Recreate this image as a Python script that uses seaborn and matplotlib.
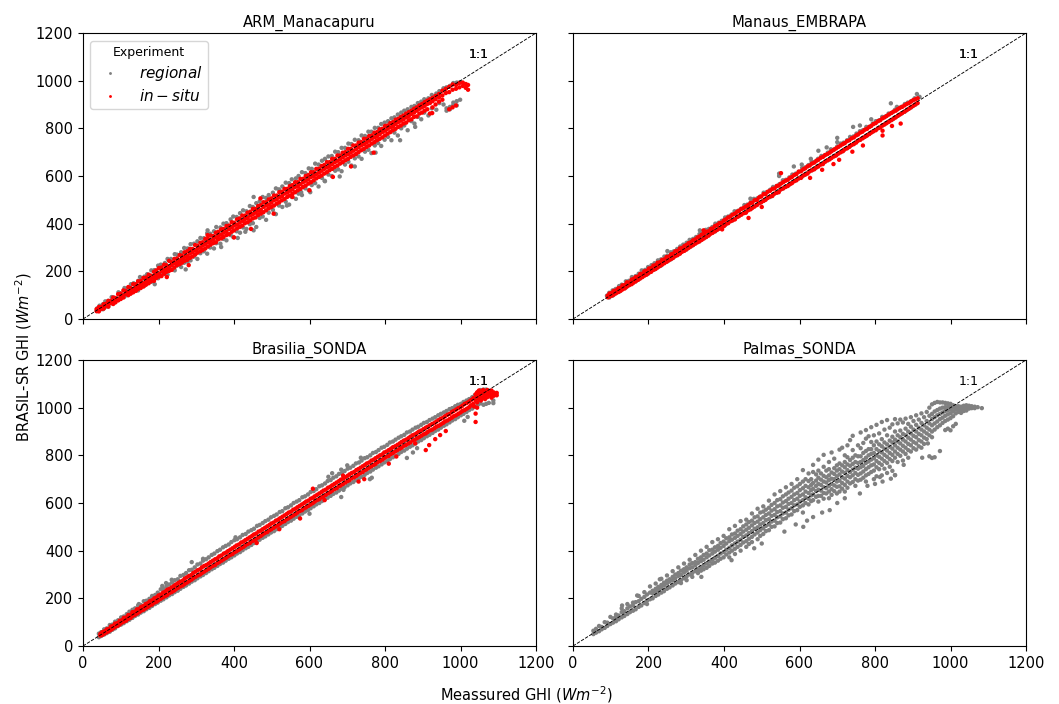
import pandas as pd
import matplotlib
matplotlib.use('Agg')
import matplotlib.pyplot as plt
import seaborn as sns

# each row: measured GHI, then the BRASIL-SR values seen at that measured GHI
arm_regional = [(37,44,33),(44,56,38),(53,62,41),(59,74,50),(67,76,52),(76,92,66),(82,90,68),(94,112,80),(99,108,85),(110,130,94),
(118,128,100),(127,146,109),(134,150,118),(146,160,120),(151,176,133),(163,178,140),(170,188,152),(181,204,156),(189,205,170),(199,224,171),
(206,228,184),(217,235,190),(224,252,186),(233,252,208),(243,272,204),(249,270,224),(260,280,218),(268,298,236),(277,296,240),(285,314,246),
(294,316,262),(303,326,252),(311,340,276),(320,339,284),(329,360,274),(337,358,300),(347,368,296),(353,386,318),(364,384,316),(372,400,336),
(380,402,330),(391,418,352),(398,430,344),(407,428,368),(416,444,362),(424,456,384),(433,452,378),(442,474,398),(450,470,402),(459,486,386),
(468,494,424),(476,512,430),(485,508,416),(492,520,446),(503,530,458),(511,548,440),(519,544,476),(528,556,470),(537,572,492),(546,570,480),
(553,586,512),(564,590,504),(571,600,526),(580,616,520),(589,612,548),(598,632,540),(606,630,562),(615,652,570),(624,648,556),(633,664,592),
(641,672,578),(650,682,606),(659,684,600),(668,702,622),(676,700,628),(685,718,620),(694,718,648),(703,736,660),(711,734,644),(720,752,674),
(730,750,682),(738,770,672),(747,768,702),(756,786,710),(764,786,696),(773,802,728),(782,802,738),(790,818,726),(799,824,752),(808,830,764),
(817,842,750),(825,846,782),(834,858,770),(843,866,800),(851,874,812),(860,880,792),(870,890,830),(878,894,820),(887,906,848),(896,912,838),
(904,922,866),(915,926,854),(924,940,884),(936,946,878),(944,956,906),(955,968,900),(963,972,884,874),(972,978,890,880),(981,990,898,908),(990,992,914,896),(999,994,920),
(330,372),(452,512,372),(578,532),(640,580),(720,640),(775,698),(840,750),(880,806),(410,340),(272,208),(190,146),(508,442),(602,532),(680,598),(366,302),(430,366),(540,476)]
arm_situ = [(36,41,33),(42,50,36,32),(49,51,42),(55,62,48,44),(61,64,56),(67,76,60,52),(73,76,67),(80,90,72,63),(86,88,80,70),(93,104,84,78),
(100,106,92,84),(107,120,98,90),(113,118,105),(120,134,112,100),(126,130,116,106),(133,146,124,112),(140,146,132,118),(146,158,138,126),(153,160,144,130),(160,172,150,136),
(167,174,160,144),(174,186,166,150),(180,182,170,158),(188,198,176,160),(194,204,186,172),(201,214,190,178),(208,216,200,180),(215,228,206,190),(221,226,212,198),(228,244,218,202),
(235,238,226,206),(242,252,234,216),(249,254,238,226),(256,268,246,230),(262,266,252,236),(269,280,260,244),(276,284,264,248),(283,294,274,256),(290,294,280,262),(297,310,288,270),
(303,308,294,278),(311,320,300,284),(317,322,308,290),(324,336,314,296),(331,336,322,304),(338,350,328,312),(345,348,334,318),(352,362,342,322),(358,366,348,334),(366,376,354,338),
(372,378,362,344),(380,390,368,352),(387,392,378,356),(394,406,384,366),(400,404,392,372),(408,418,396,380),(415,422,404,386),(422,434,412,392),(429,434,420,402),(436,446,424,406),
(443,450,434,414),(450,462,440,422),(457,462,446,426),(464,474,454,436),(471,478,458,442),(478,490,470,448),(485,490,476,456),(492,502,480,464),(499,506,488,470),(506,518,498,476),
(513,518,502,484),(520,532,510,490),(527,534,516,498),(534,546,526,504),(541,546,530,512),(548,558,538,518),(555,562,544,526),(562,574,554,532),(569,574,558,540),(576,588,566,546),
(583,588,574,554),(590,600,580,560),(597,604,586,568),(604,616,596,574),(611,616,600,582),(618,630,608,590),(625,630,614,596),(632,642,622,602),(639,646,630,610),(646,658,636,616),
(653,658,642,624),(660,672,650,630),(667,672,658,638),(674,686,664,644),(681,686,670,652),(688,698,678,658),(695,700,686,666),(702,714,692,672),(709,714,698,680),(716,728,706,686),
(723,728,712,692),(730,740,720,700),(737,742,728,708),(744,756,734,714),(751,756,740,722),(758,768,748,728),(765,770,756,736),(772,782,762,742),(779,784,768,750),(786,796,776,756),
(793,798,784,762),(800,810,790,770),(807,812,798,778),(814,822,804,784),(821,826,810,792),(828,836,818,798),(835,840,826,806),(842,848,832,812),(849,854,838,820),(856,862,846,824),
(863,868,852,834),(870,874,860,838),(877,882,866,848),(884,888,874,850),(891,896,882,862),(898,902,888,866),(905,910,894,874),(912,916,902,880),(919,922,906,862),(926,928,914,888),
(934,936,922,900),(943,944,930,912),(952,958,938,920),(961,966,948),(970,974,952,880),(979,984,962,888),(988,982,966,896),(997,990,972),(1006,992,978),(1014,986,970),(1020,982,962),
(330,352),(470,506),(555,512),(600,540),(770,698),(662,596),(925,864),(400,342),(445,378),(280,226),(505,442),(222,176),(710,640)]

manaus_regional = [(90,98),(96,110,90),(105,120,98),(113,126,108),(122,138,114),(129,144,124),(140,158,132),(148,160,142),(156,176,148),(166,180,158),
(174,190,166),(182,204,176),(191,206,184),(199,218,190),(208,226,202),(216,234,208),(225,246,218),(233,250,224),(242,262,236),(250,266,242),
(259,280,250),(267,284,260),(276,294,268),(284,304,276),(292,312,286),(301,320,292),(309,332,302),(318,336,310),(326,344,320),(335,356,326),
(343,360,336),(352,374,344),(360,378,352),(369,386,362),(377,400,368),(386,404,378),(394,412,388),(403,426,394),(411,430,404),(420,438,412),
(428,452,420),(437,454,430),(445,462,438),(454,478,446),(462,480,456),(471,490,462),(479,504,472),(488,506,480),(496,514,488),(505,530,496),
(513,532,506),(522,542,512),(530,554,522),(539,558,530),(547,566,540),(556,582,548),(564,584,556),(573,594,564),(581,606,574),(590,610,582),
(598,618,590),(607,634,598),(615,636,606),(624,646,616),(632,660,624),(641,660,632),(649,672,642),(658,684,650),(666,686,658),(675,698,666),
(683,712,676),(692,712,684),(700,724,692),(709,736,700),(717,740,708),(726,750,718),(734,764,726),(743,766,734),(751,778,744),(760,788,752),
(768,792,760),(777,806,768),(785,806,778),(794,820,786),(802,830,794),(811,834,802),(819,848,812),(828,850,820),(836,862,828),(845,866,836),
(853,878,846),(862,884,854),(870,890,862),(879,902,870),(887,908,880),(896,914,888),(905,926,898),(911,944,905),(918,932),
(546,610),(546,600),(585,640),(650,706),(672,720),(700,760),(742,806),(790,838),(842,905),(858,890),(470,505),(336,372),(250,285),(606,648),(630,672),(760,812),(700,742)]
manaus_situ = [(92,98,91),(97,107,94),(103,110,98),(108,118,102),(114,120,108),(120,129,113),(126,131,118),(131,141,124),(137,143,128),(143,154,136),
(149,153,142),(155,165,146),(160,168,152),(166,176,158),(172,178,164),(178,189,170),(184,190,176),(189,200,182),(195,202,186),(201,212,194),
(207,214,198),(213,224,206),(219,226,210),(224,236,216),(230,238,222),(236,248,228),(242,250,234),(248,260,240),(254,262,246),(260,271,252),
(265,274,256),(271,284,264),(277,286,268),(283,296,274),(289,298,282),(295,306,286),(300,310,292),(306,318,298),(312,322,304),(318,330,310),
(324,334,316),(330,342,322),(335,346,326),(341,354,332),(347,358,338),(353,366,344),(359,368,350),(365,378,358),(370,380,362),(376,390,368),
(382,394,374),(388,402,380),(394,404,386),(400,414,390),(405,418,398),(411,426,402),(417,430,410),(423,438,414),(429,442,418),(435,450,428),
(440,454,432),(446,462,438),(452,466,444),(458,472,446),(464,478,456),(470,486,460),(475,488,466),(481,498,472),(487,500,478),(493,510,486),
(499,514,490),(505,524,496),(510,524,500),(516,534,508),(522,538,514),(528,546,516),(534,548,526),(540,558,530),(545,560,532),(551,612,568,544),(557,574,548),(563,580,554),
(569,584,558),(575,592,566),(580,596,570),(586,604,578),(592,608,582),(598,618,590),(604,620,592),(610,628,602),(615,632,606),(621,640,610),
(627,644,620),(633,652,624),(639,656,628),(645,664,636),(650,668,640),(656,676,648),(662,680,650),(668,688,660),(674,692,666),(680,698,670),
(685,704,676),(691,710,682),(697,716,686),(703,722,694),(709,728,700),(715,734,704),(720,738,712),(726,746,716),(732,750,722),(738,758,730),
(744,762,734),(750,770,740),(755,774,748),(761,782,752),(767,786,758),(773,794,764),(779,798,770),(785,806,776),(790,810,782),(796,818,788),
(802,822,792),(808,830,800),(814,834,804),(820,842,812),(825,846,816),(831,852,822),(837,858,828),(843,864,834),(849,870,840),(855,874,846),
(860,880,852),(866,886,858),(872,890,864),(878,896,870),(884,902,876),(890,906,882),(895,912,888),(901,918,894),(907,922,900),(913,926,906),
(346,372),(465,472,424),(690,650),(820,770),(868,820),(768,728),(500,470),(395,376),(628,592),(705,668),(820,790),(845,810),(660,626),(740,702)]

brasilia_regional = [(42,52,37),(48,58,42),(56,70,48),(63,74,54),(71,88,60),(78,90,68),(85,102,74),(93,108,84),(101,120,90),(108,124,96),
(116,134,104),(123,144,110),(131,152,118),(138,158,126),(146,170,132),(153,172,140),(161,188,146),(168,190,154),(176,198,160),(183,210,168),
(191,214,176),(198,224,182),(206,238,190),(213,240,196),(221,250,204),(228,258,212),(236,266,218),(243,276,226),(251,280,232),(258,294,240),
(266,298,248),(273,306,254),(281,318,262),(288,352,320,270),(296,330,276),(303,342,284),(311,346,292),(318,358,298),(326,364,306),(333,372,314),
(341,382,322),(348,388,328),(356,398,336),(363,404,344),(371,414,350),(378,420,358),(386,426,366),(393,436,372),(401,444,380),(408,448,388),
(416,456,394),(423,466,402),(431,470,410),(438,480,416),(446,486,424),(453,492,432),(461,504,438),(468,508,446),(476,516,454),(483,524,460),
(491,530,468),(498,540,476),(506,546,482),(513,552,490),(521,562,498),(528,566,504),(536,578,512),(543,582,520),(551,590,526),(558,600,534),
(566,606,542),(573,612,548),(581,624,556),(588,628,564),(596,636,570),(603,646,578),(611,650,586),(618,658,594),(626,670,600),(633,674,608),
(641,682,616),(648,692,622),(656,696,630),(663,706,638),(671,712,644),(678,722,652),(686,726,660),(693,734,666),(701,744,674),(708,748,682),
(716,756,688),(723,766,696),(731,770,704),(738,778,710),(746,788,718),(753,792,726),(761,800,732),(768,810,740),(776,814,748),(783,822,754),
(791,832,762),(798,836,770),(806,844,776),(813,854,784),(821,858,792),(828,866,798),(836,874,806),(843,880,814),(851,886,820),(858,896,828),
(866,900,836),(873,908,842),(881,916,850),(888,920,858),(896,928,864),(903,936,872),(911,940,880),(918,948,886),(926,954,894),(933,960,902),
(941,968,908),(948,974,916),(956,980,924),(963,986,930),(971,994,938),(978,998,946),(986,1006,952),(993,1012,960),(1001,1016,968),(1008,1024,974),
(1016,1030,982),(1023,1036,990),(1031,1044,996),(1038,1052,1004),(1046,1066,1012),(1053,1074,1018),(1061,1076,1012),(1068,1076,1016),(1075,1070,1020),(1087,1030,1019),
(210,252),(220,264),(235,278),(660,725),(684,740,625),(760,700),(858,789),(874,812),(885,830),(1019,961),(1010,945),(600,555),(690,655),(765,706),(650,710),(700,758),(736,790),(404,456),(318,366),(148,176)]
brasilia_situ = [(46,51,44),(51,58,46),(57,62,52),(63,70,58),(68,72,62),(74,82,68),(80,85,74),(85,94,80),(91,96,84),(97,106,90),
(103,108,98),(108,118,102),(114,120,106),(120,130,114),(126,131,118),(131,142,126),(137,144,130),(143,154,136),(149,156,142),(154,164,148),
(160,168,152),(166,176,158),(172,180,164),(177,188,170),(183,192,174),(189,200,182),(195,204,186),(200,212,192),(206,216,198),(212,224,204),
(218,228,210),(223,236,214),(229,240,222),(235,246,226),(241,252,232),(246,258,238),(252,264,244),(258,270,250),(264,274,254),(269,282,260),
(275,288,266),(281,294,272),(287,298,278),(292,306,284),(298,312,290),(304,318,296),(310,322,300),(315,330,306),(321,336,312),(327,340,318),
(333,346,324),(338,352,330),(344,358,336),(350,364,340),(356,368,348),(361,376,352),(367,380,358),(373,388,364),(379,392,370),(384,398,376),
(390,404,382),(396,410,386),(402,416,394),(407,422,398),(413,426,404),(419,434,410),(425,438,416),(430,444,422),(436,450,428),(442,456,432),
(448,462,440),(453,468,444),(459,472,450),(465,480,456),(471,484,462),(476,490,468),(482,496,474),(488,502,478),(494,508,486),(499,514,490),
(505,518,496),(511,526,502),(517,530,508),(522,536,514),(528,542,520),(534,548,524),(540,554,532),(545,560,536),(551,564,542),(557,572,548),
(563,576,554),(568,582,560),(574,588,566),(580,594,570),(586,600,578),(591,606,582),(597,610,588),(603,618,594),(609,660,622,600),(614,628,606),(620,634,612),(626,640,616),
(632,646,624),(637,652,628),(643,656,634),(649,664,640),(655,668,646),(660,674,652),(666,680,658),(672,686,662),(678,692,670),(683,698,674),
(689,715,702,680),(695,708,686),(701,714,692),(706,720,696),(712,726,704),(718,730,708),(724,738,714),(729,742,720),(735,748,726),(741,754,730),
(747,760,738),(752,766,742),(758,770,748),(764,778,754),(770,782,760),(775,788,764),(781,794,772),(787,800,776),(793,804,782),(798,812,788),
(804,816,794),(810,822,798),(816,828,806),(821,834,810),(827,838,816),(833,844,822),(839,850,828),(844,856,832),(850,862,840),(856,866,844),
(862,872,850),(867,878,854),(873,884,862),(879,888,866),(885,894,872),(890,900,876),(896,904,882),(902,910,888),(908,916,892),(913,920,898),
(919,926,904),(925,932,908),(931,936,914),(936,942,920),(942,948,924),(948,954,930),(954,958,936),(959,964,942),(965,970,946),(971,974,952),
(977,982,958),(982,986,964),(988,992,968),(994,998,974),(1000,1002,980),(1005,1008,986),(1011,1016,990),(1017,1020,996),(1023,1026,1002),(1028,1032,1010),
(1034,1040,1016),(1040,1056,1030,975,940),(1044,1064,1046,1022,1000),(1049,1072,1056,1036),(1054,1066,1044,1030),(1060,1074,1058,1040),(1065,1068,1050,1036),(1071,1074,1060,1044),(1076,1066,1050),(1082,1072,1056,1042),(1088,1064,1050),(1096,1062,1052),
(908,822),(917,843),(933,868),(946,885),(961,902),(1036,1005),(745,700),(520,490),(575,535),(810,765),(830,795),(640,612),(730,690),(880,850),(460,432)]

palmas_regional = [(54,64,50),(61,72,56),(69,84,62),(76,80,70),(84,100,76),(91,98,84),(99,122,92),(106,116,98),(114,132,104,122),(121,128,112),
(129,158,142,120),(136,146,126),(144,176,158,134),(151,166,142),(159,182,170,148),(166,184,154),(174,210,188,164),(181,198,170),(189,226,206,180),(196,216,190,176),
(204,250,224,196),(211,232,222,200),(219,262,240,210,228),(226,248,216,236),(234,282,256,244,224),(241,266,254,230),(249,296,274,262,240),(256,280,270,246),(264,314,290,276,254),(271,300,284,262),
(279,330,306,294,268),(286,316,298,276,264),(294,346,322,308,284),(301,330,316,292,276),(309,362,342,326,300),(316,348,330,306,290),(324,382,352,338,314),(331,366,348,322,306),(339,400,372,356,330,316),(346,382,362,338,322),
(354,416,388,372,346,328),(361,402,380,354,336),(369,436,404,388,362,346),(376,414,396,370,350),(384,448,420,404,378,358),(391,432,412,388,366),(399,462,438,420,394,372),(406,452,430,404,384),(414,490,456,440,412,392,372),(421,468,446,422,400),
(429,504,472,454,430,408,386),(436,484,462,438,416),(444,524,490,470,446,424,400),(451,502,480,458,434),(459,530,510,488,464,440,416),(466,520,496,474,450,428),(474,556,526,506,482,458,436),(481,540,516,492,468),(489,576,544,522,498,476,448),(496,560,532,510,486,462),
(504,586,564,540,516,494,470),(511,572,550,528,504,482),(519,610,580,556,532,510,486),(526,592,568,546,522,500),(534,636,600,574,550,526,502),(541,612,586,562,540,516),(549,650,616,590,566,544,518),(556,628,602,580,556,532),(564,666,636,608,584,560,536),(571,644,618,596,572,548),
(579,680,652,626,600,578,552),(586,664,636,612,590,566),(594,700,670,642,618,594,570),(601,680,654,630,606,584),(609,738,690,662,636,612,590,560),(616,700,672,648,624,600),(624,724,692,666,642,618,594),(631,700,676,654,632,608),(636,760,730,684,660,636,612,541),(644,720,694,672,650,626),
(650,782,736,706,680,656,630,606),(657,724,698,676,652,630),(664,802,752,714,690,666,642,618),(671,736,708,686,662,640),(678,772,742,716,696,672,648,620),(685,812,728,702,680,658,634),(692,786,746,722,700,674,650),(699,758,736,712,690,668,640),(706,824,766,742,720,694,670,648),(713,832,758,732,708,684,660),
(720,800,772,750,726,702,676,648),(727,842,792,762,738,714,690,664),(734,864,780,756,730,708,682),(741,882,822,790,764,740,716,688),(748,800,772,748,726,700,672),(755,842,796,768,744,718,694),(762,896,830,796,772,750,724,698),(769,852,810,780,756,732,706),(776,906,870,818,790,768,742,716,690),(783,880,826,800,774,750,722),
(790,918,856,826,806,782,758,730),(797,884,842,810,788,762,736,700),(804,928,858,826,800,776,750,712),(811,892,846,818,794,768,742),(818,940,868,838,812,786,760,716),(825,908,854,828,802,776,744),(832,948,884,846,820,794,768,726),(839,916,862,836,810,784,752),(846,930,878,854,828,802,776,735),(853,952,900,866,842,816,790,717),
(860,934,884,858,832,806,772),(867,950,904,876,850,824,798),(874,938,890,866,840,816,778),(881,954,912,884,858,832,806),(888,932,900,874,848,822,790),(895,960,920,892,866,842,816),(902,944,908,882,856,830),(909,968,928,900,876,850,824),(916,950,916,890,864,838),(923,976,936,908,884,858,832),
(930,960,926,900,874,848),(937,982,944,916,892,868),(944,1000,966,934,908,884,796),(951,1014,974,952,926,900,876,789),(958,1020,984,960,934,908,792),(965,1024,990,968,942,918),(972,1022,996,974,952,926,818),(979,1022,1000,980,958,936),(986,1020,1002,986,966,944,906),(993,1018,1004,990,972,950,912),
(1000,1016,1004,992,976,956,905),(1007,1010,1000,984,964,922),(1014,1006,992,976,932),(1021,1006,996,982),(1028,1004,992,978),(1035,1008,998,986),(1042,1010,1000,988),(1049,1008,996),(1056,1006,998),(1064,1004,998),(1072,1002),(1083,998),
(842,702),(820,690),(800,680),(780,672),(760,640),(700,600),(680,570),(660,560),(620,526),(590,510),(720,620),(610,500),(560,480),(480,410),(500,430),(420,360),(340,290),(230,280),(170,212),(130,170),(853,717),(813,709),(876,760),(940,850),(925,790)]

titles = ['ARM_Manacapuru', 'Manaus_EMBRAPA', 'Brasilia_SONDA', 'Palmas_SONDA']
regional_rows = [arm_regional, manaus_regional, brasilia_regional, palmas_regional]
situ_rows = [arm_situ, manaus_situ, brasilia_situ, []]
ticks = [0, 200, 400, 600, 800, 1000, 1200]
regional_name = '$regional$'
situ_name = '$in-situ$'


def to_frame(rows, name):
    out = []
    for row in rows:
        for modelled in row[1:]:
            out.append({'measured': row[0], 'modelled': modelled, 'Experiment': name})
    return pd.DataFrame(out)


plt.rcParams['font.size'] = 10.5

fig, axes = plt.subplots(2, 2, figsize=(10.59, 7.04), dpi=100, sharex=True, sharey=True)
fig.subplots_adjust(left=83/1059, right=1026/1059, top=1-33/704, bottom=1-646/704, wspace=37/453, hspace=41/286)

for i, ax in enumerate(axes.flat):
    frames = [to_frame(regional_rows[i], regional_name)]
    if situ_rows[i]:
        frames.append(to_frame(situ_rows[i], situ_name))
    df = pd.concat(frames, ignore_index=True)
    sns.scatterplot(data=df, x='measured', y='modelled', hue='Experiment', ax=ax, s=10, linewidth=0, edgecolor='none',
                    palette={regional_name: 'gray', situ_name: 'red'}, legend=(i == 0))
    ax.axline((0, 0), slope=1, color='k', ls='--', lw=0.65)
    # the label is drawn once per experiment, so it looks heavier where there are two
    for _ in frames:
        ax.text(1022, 1110, '1:1', fontsize=9, va='center')
    ax.set_xlim(0, 1200)
    ax.set_ylim(0, 1200)
    ax.set_xticks(ticks)
    ax.set_yticks(ticks)
    ax.set_xlabel('')
    ax.set_ylabel('')
    ax.set_title(titles[i], fontsize=10.6, pad=4.5)

axes[0, 0].legend(title='Experiment', loc='upper left', bbox_to_anchor=(0.016, 0.972), fontsize=11, title_fontsize=9,
                  borderaxespad=0, handletextpad=0.9, labelspacing=0.35, borderpad=0.3, markerscale=0.65)

fig.text(526/1059, 1-695/704, 'Meassured GHI ($Wm^{-2}$)', ha='center', va='center', fontsize=10.5)
fig.text(24/1059, 1-357/704, 'BRASIL-SR GHI ($Wm^{-2}$)', ha='center', va='center', rotation=90, fontsize=10.5)

plt.savefig('out.png', dpi=100)
